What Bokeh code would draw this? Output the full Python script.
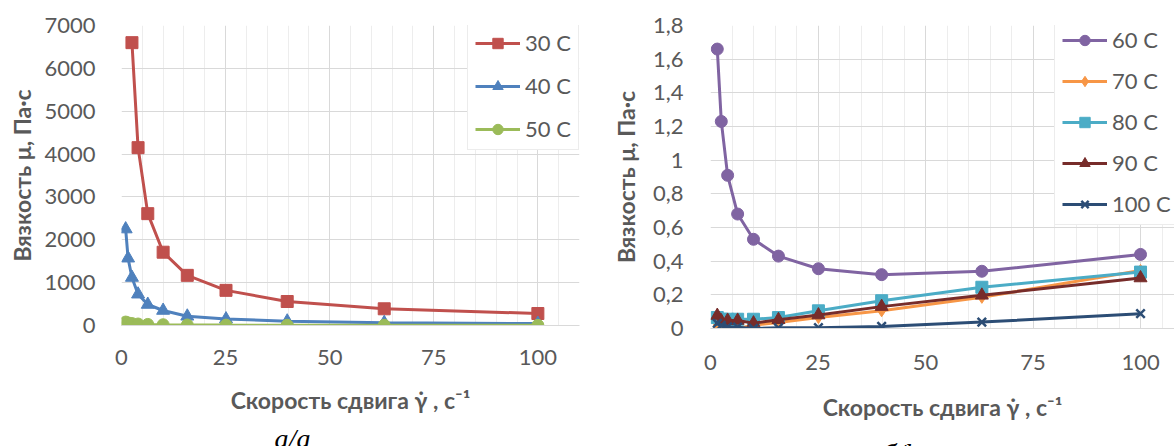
from bokeh.plotting import figure
from bokeh.layouts import row, column
from bokeh.models import FixedTicker, Legend, LegendItem, Range1d, Label
from bokeh.embed import file_html
from bokeh.resources import INLINE

# ---------------- data ----------------
shear_a = [1, 1.58, 2.51, 3.98, 6.31, 10, 15.8, 25.1, 39.8, 63.1, 100]
shear_30 = [2.51, 3.98, 6.31, 10, 15.8, 25.1, 39.8, 63.1, 100]
mu_30 = [6600, 4150, 2610, 1710, 1170, 820, 560, 390, 280]
mu_40 = [2250, 1570, 1120, 730, 490, 350, 215, 150, 100, 65, 45]
mu_50 = [80, 60, 45, 35, 25, 18, 12, 9, 6, 5, 4]

shear_b = [1.58, 2.51, 3.98, 6.31, 10, 15.8, 25.1, 39.8, 63.1, 100]
mu_60 = [1.66, 1.23, 0.91, 0.68, 0.53, 0.43, 0.355, 0.32, 0.34, 0.44]
mu_70 = [0.02, 0.005, 0.0, 0.0, 0.02, 0.035, 0.065, 0.105, 0.185, 0.345]
mu_80 = [0.065, 0.055, 0.055, 0.055, 0.055, 0.065, 0.105, 0.165, 0.245, 0.335]
mu_90 = [0.077, 0.045, 0.048, 0.048, 0.032, 0.052, 0.08, 0.13, 0.197, 0.30]
mu_100 = [0.03, 0.018, 0.01, 0.008, 0.0, 0.004, 0.005, 0.012, 0.038, 0.088]

x_ticks = [0, 25, 50, 75, 100]
y_ticks_a = [0, 1000, 2000, 3000, 4000, 5000, 6000, 7000]
y_ticks_b = [0, 0.2, 0.4, 0.6, 0.8, 1, 1.2, 1.4, 1.6, 1.8]
y_labels_b = ["0", "0,2", "0,4", "0,6", "0,8", "1", "1,2", "1,4", "1,6", "1,8"]

x_title = "Скорость сдвига γ̇ , с⁻¹"
y_title = "Вязкость μ, Па·с"
caption_a = "а/а"
caption_b = "б/b"

FONT = "Lato"
GREY = "#595959"


def style(p, xmax):
    minor = [v for v in range(0, int(xmax) + 1, 5) if v % 25 != 0]
    p.xaxis.ticker = FixedTicker(ticks=x_ticks, minor_ticks=minor)
    p.xgrid.grid_line_color = "#d9d9d9"
    p.xgrid.minor_grid_line_color = "#ededed"
    p.ygrid.grid_line_color = "#d9d9d9"
    p.outline_line_color = None
    for ax in (p.xaxis, p.yaxis):
        ax.major_tick_line_color = None
        ax.minor_tick_line_color = None
        ax.major_tick_out = 0
        ax.major_tick_in = 0
        ax.minor_tick_out = 0
        ax.major_label_text_font = FONT
        ax.major_label_text_font_size = "22px"
        ax.major_label_text_color = GREY
        ax.axis_label_text_font = FONT
        ax.axis_label_text_font_size = "23px"
        ax.axis_label_text_font_style = "bold"
        ax.axis_label_text_color = GREY
    p.xaxis.axis_line_color = "#d9d9d9"
    p.yaxis.axis_line_color = None
    p.xaxis.axis_label = x_title
    p.yaxis.axis_label = y_title


def add_series(p, x, y, color, marker, size, lw=3):
    ln = p.line(x, y, line_color=color, line_width=lw)
    if marker == "x":
        sc = p.scatter(x, y, marker="x", size=size, line_color=color, line_width=2.5)
    else:
        sc = p.scatter(x, y, marker=marker, size=size, fill_color=color, line_color=color)
    return [ln, sc]


def make_legend(items, loc, spacing):
    lg = Legend(items=items, location=loc)
    lg.margin = 0
    lg.padding = 7
    lg.spacing = spacing
    lg.glyph_height = 26
    lg.glyph_width = 45
    lg.label_height = 26
    lg.label_standoff = 5
    lg.label_text_font = FONT
    lg.label_text_font_size = "22px"
    lg.label_text_color = GREY
    lg.border_line_color = "#d9d9d9"
    lg.border_line_width = 1.5
    lg.background_fill_color = "white"
    lg.background_fill_alpha = 1
    return lg


def caption_plot(width, height, text, cx, base_y):
    # the frame of this strip is aligned with the chart above it
    c = figure(width=width, height=height, x_range=Range1d(0, width), y_range=Range1d(0, height),
               output_backend="svg", toolbar_location=None, x_axis_type=None, y_axis_type=None,
               min_border=0)
    c.outline_line_color = None
    c.grid.visible = False
    c.add_layout(Label(x=cx, y=base_y, x_units="screen", y_units="screen", text=text,
                       text_font="Liberation Serif", text_font_style="italic",
                       text_font_size="28px", text_color="black",
                       text_align="center", text_baseline="alphabetic"))
    return c


# ---------------- chart a ----------------
pa = figure(width=600, height=423, x_range=Range1d(0, 110), y_range=Range1d(0, 7000),
            output_backend="svg", toolbar_location=None,
            min_border_left=121, min_border_right=21, min_border_top=25, min_border_bottom=98)
style(pa, 110)
pa.yaxis.ticker = FixedTicker(ticks=y_ticks_a)
pa.xaxis.major_label_standoff = 24
pa.yaxis.major_label_standoff = 26
pa.xaxis.axis_label_standoff = 18
pa.yaxis.axis_label_standoff = 5

r30 = add_series(pa, shear_30, mu_30, "#C0504D", "square", 12)
r40 = add_series(pa, shear_a, mu_40, "#4F81BD", "triangle", 13)
r50 = add_series(pa, shear_a, mu_50, "#9BBB59", "circle", 12)
pa.add_layout(make_legend([LegendItem(label="30 C", renderers=r30),
                           LegendItem(label="40 C", renderers=r40),
                           LegendItem(label="50 C", renderers=r50)], (346, 175), 16))
ca = caption_plot(600, 23, caption_a, 171, 8)

# ---------------- chart b ----------------
pb = figure(width=574, height=432, x_range=Range1d(0, 107.9), y_range=Range1d(0, 1.8),
            output_backend="svg", toolbar_location=None,
            min_border_left=110, min_border_right=0, min_border_top=25, min_border_bottom=104)
style(pb, 107.9)
pb.yaxis.ticker = FixedTicker(ticks=y_ticks_b)
pb.yaxis.major_label_overrides = dict(zip(y_ticks_b, y_labels_b))
pb.xaxis.major_label_standoff = 26
pb.yaxis.major_label_standoff = 27
pb.xaxis.axis_label_standoff = 20
pb.yaxis.axis_label_standoff = 10

r60 = add_series(pb, shear_b, mu_60, "#8064A2", "circle", 12)
r70 = add_series(pb, shear_b, mu_70, "#F79646", "diamond", 12)
r80 = add_series(pb, shear_b, mu_80, "#4BACC6", "square", 12)
r90 = add_series(pb, shear_b, mu_90, "#772C2A", "triangle", 13)
r100 = add_series(pb, shear_b, mu_100, "#2C4D75", "x", 12)
pb.add_layout(make_legend([LegendItem(label="60 C", renderers=r60),
                           LegendItem(label="70 C", renderers=r70),
                           LegendItem(label="80 C", renderers=r80),
                           LegendItem(label="90 C", renderers=r90),
                           LegendItem(label="100 C", renderers=r100)], (344, 103), 14))
cb = caption_plot(574, 14, caption_b, 190, -7)

layout = row(column(pa, ca), column(pb, cb))
open("out.html", "w").write(file_html(layout, INLINE))
